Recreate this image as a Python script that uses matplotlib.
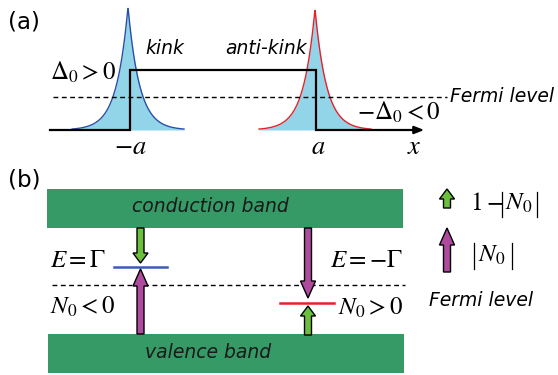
import numpy as np
import matplotlib
matplotlib.use('Agg')
import matplotlib.pyplot as plt
from matplotlib.patches import Rectangle, FancyArrow

plt.rcParams['mathtext.fontset'] = 'stix'

# ---- schematic data (pixel frame of the figure) ----
peak_centers = [128, 315]          # kink, anti-kink
peak_tops = [7, 9]
peak_edge = ['#2b4fa8', '#e8202a']
peak_fill = '#93d5e8'
peak_decay = 11.5
peak_halfspan = 56
base_y = 130
step_x = [50, 130, 130, 316, 316, 418]
step_y = [130, 130, 70, 70, 130, 130]

# panel (b)
bands = [(47, 189, 356, 39, 'conduction band', 210, 207),
         (48, 334, 356, 39, 'valence band', 208, 353)]
band_color = '#359a66'
levels = [(114, 167, 267, '#3b5bb5'), (280, 334, 303, '#e8202a')]
green = '#6cbf3c'
purple = '#b04a9e'
arrows = [  # x, y_from, y_to, color
    (140.5, 228, 263, green),
    (140.5, 334, 269, purple),
    (308, 228, 298, purple),
    (308, 335, 306, green),
    (447, 208, 189, green),
    (447, 272, 228, purple),
]

fig = plt.figure(figsize=(5.58, 3.75), dpi=100)
ax = fig.add_axes([0, 0, 1, 1])
ax.set_xlim(0, 558)
ax.set_ylim(375, 0)
ax.axis('off')

# peaks
for xc, top, ec in zip(peak_centers, peak_tops, peak_edge):
    xs = np.linspace(xc - peak_halfspan, xc + peak_halfspan, 400)
    ys = base_y - (base_y - top) * np.exp(-np.abs(xs - xc) / peak_decay)
    ax.fill_between(xs, ys, base_y, color=peak_fill, lw=0, zorder=1)
    ax.plot(xs, ys, color=ec, lw=1.0, zorder=2)

# step profile + axis arrow
ax.plot(step_x, step_y, color='black', lw=1.6, zorder=3, solid_joinstyle='miter')
ax.add_patch(FancyArrow(step_x[-2], base_y, 422 - step_x[-2], 0, width=0.0,
                        head_width=7, head_length=9, length_includes_head=True,
                        color='black', lw=1.2, zorder=3))

# dashed fermi line (a)
ax.plot([53, 447], [97, 97], color='black', lw=1.0, ls=(0, (3.5, 2.5)), zorder=2)

# texts panel (a)
sans_it = dict(family='DejaVu Sans', style='italic', fontsize=13.5)
mfs = 18
ax.text(8, 22, '(a)', fontsize=16.5, family='DejaVu Sans', va='center', ha='left')
ax.text(145, 48, 'kink', ha='left', va='center', **sans_it)
ax.text(225, 48, 'anti-kink', ha='left', va='center', **sans_it)
ax.text(450, 97, 'Fermi level', ha='left', va='center', **sans_it)
ax.text(50, 72, r'$\Delta_0>0$', fontsize=mfs, ha='left', va='center')
ax.text(357, 112, r'$-\Delta_0<0$', fontsize=mfs, ha='left', va='center')
ax.text(130, 147, r'$-a$', fontsize=19, ha='center', va='center')
ax.text(318, 147, r'$a$', fontsize=19, ha='center', va='center')
ax.text(414, 147, r'$x$', fontsize=19, ha='center', va='center')

# panel (b)
ax.text(8, 180, '(b)', fontsize=16.5, family='DejaVu Sans', va='center', ha='left')
for x0, y0, w, h, label, tx, ty in bands:
    ax.add_patch(Rectangle((x0, y0), w, h, color=band_color, lw=0, zorder=1))
    ax.text(tx, ty, label, ha='center', va='center', color='#1a1a1a', **sans_it)

ax.plot([52, 405], [285, 285], color='black', lw=1.0, ls=(0, (3.5, 2.5)), zorder=2)
for x1, x2, y, c in levels:
    ax.plot([x1, x2], [y, y], color=c, lw=1.8, zorder=2)

for x, y1, y2, c in arrows:
    length = abs(y2 - y1)
    hl = 17 if c == purple else 10
    ax.add_patch(FancyArrow(x, y1, 0, y2 - y1, width=7, head_width=15,
                            head_length=min(hl, length * 0.6), length_includes_head=True,
                            fc=c, ec='black', lw=1.0, zorder=4))

ax.text(50, 260, r'$E=\Gamma$', fontsize=mfs, ha='left', va='center')
ax.text(50, 307, r'$N_0<0$', fontsize=mfs, ha='left', va='center')
ax.text(330, 260, r'$E=-\Gamma$', fontsize=mfs, ha='left', va='center')
ax.text(338, 308, r'$N_0>0$', fontsize=mfs, ha='left', va='center')

# legend: 1-|N0| and |N0| with tall absolute-value bars
ax.text(470, 203, r'$1-$', fontsize=mfs, ha='left', va='center')
ax.text(505, 203, r'$N_0$', fontsize=mfs, ha='left', va='center')
ax.text(478, 255, r'$N_0$', fontsize=mfs, ha='left', va='center')
for bx, yt, yb in [(502, 192, 217), (537, 192, 217), (474, 243, 269), (512, 243, 269)]:
    ax.plot([bx, bx], [yt, yb], color='black', lw=0.9)
ax.text(429, 300, 'Fermi level', ha='left', va='center', **sans_it)

fig.savefig('out.png', dpi=100)
